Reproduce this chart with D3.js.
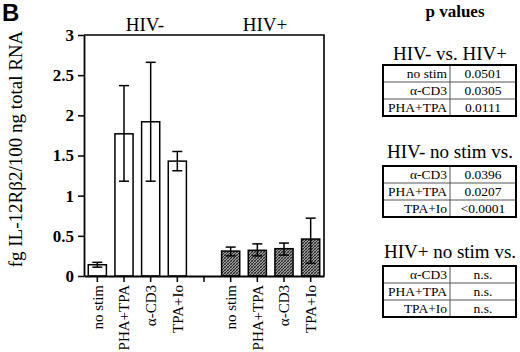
<!DOCTYPE html>
<html>
<head>
<meta charset="utf-8">
<script src="https://cdn.jsdelivr.net/npm/d3@7"></script>
<style>
  body { margin: 0; background: #fff; }
  svg { display: block; }
</style>
</head>
<body>
<div id="chart"></div>
<script>
// data
var stimuli = ["no stim", "PHA+TPA", "α-CD3", "TPA+Io"];
var groups = ["HIV-", "HIV+"];
var hivNegMean = [0.14, 1.77, 1.92, 1.43];
var hivNegLow  = [0.11, 1.18, 1.18, 1.31];
var hivNegHigh = [0.17, 2.37, 2.66, 1.55];
var hivPosMean = [0.31, 0.32, 0.34, 0.46];
var hivPosLow  = [0.25, 0.25, 0.26, 0.16];
var hivPosHigh = [0.36, 0.40, 0.41, 0.72];
var yTicks = [0, 0.5, 1, 1.5, 2, 2.5, 3];

var pTitles = ["HIV- vs. HIV+", "HIV- no stim vs.", "HIV+ no stim vs."];
var pLabels = [["no stim", "α-CD3", "PHA+TPA"], ["α-CD3", "PHA+TPA", "TPA+Io"], ["α-CD3", "PHA+TPA", "TPA+Io"]];
var pValues = [["0.0501", "0.0305", "0.0111"], ["0.0396", "0.0207", "<0.0001"], ["n.s.", "n.s.", "n.s."]];

var width = 520, height = 352;
var svg = d3.select("#chart").append("svg")
    .attr("width", width)
    .attr("height", height);

// crosshatch for the HIV+ bars
var pat = svg.append("defs").append("pattern")
    .attr("id", "hatch")
    .attr("patternUnits", "userSpaceOnUse")
    .attr("width", 3).attr("height", 3);
pat.append("rect").attr("width", 3).attr("height", 3).attr("fill", "#9a9a9a");
pat.append("path").attr("d", "M0,3 L3,0 M-1,1 L1,-1 M2,4 L4,2").attr("stroke", "#1a1a1a").attr("stroke-width", 0.9);
pat.append("path").attr("d", "M0,0 L3,3").attr("stroke", "#333").attr("stroke-width", 0.5);

// build rows: 4 HIV- slots, a gap, 4 HIV+ slots
var rows = [];
stimuli.forEach(function(s, i) {
  rows.push({key: "neg" + i, stim: s, group: 0, mean: hivNegMean[i], lo: hivNegLow[i], hi: hivNegHigh[i]});
});
var slots = rows.map(function(d) { return d.key; }).concat(["gap"]);
stimuli.forEach(function(s, i) {
  rows.push({key: "pos" + i, stim: s, group: 1, mean: hivPosMean[i], lo: hivPosLow[i], hi: hivPosHigh[i]});
  slots.push("pos" + i);
});
var labelOf = {};
rows.forEach(function(d) { labelOf[d.key] = d.stim; });
labelOf.gap = "";

var plotL = 84, plotR = 324, plotT = 35, plotB = 276;

var x = d3.scaleBand()
    .domain(slots)
    .range([plotL, plotR])
    .paddingInner(0.32)
    .paddingOuter(0.16);

var y = d3.scaleLinear()
    .domain([0, 3])
    .range([plotB, plotT]);

var serif = "'Liberation Serif', 'Times New Roman', serif";

// frame (top and right)
svg.append("path")
    .attr("d", "M" + plotL + "," + plotT + "H" + plotR + "V" + plotB)
    .attr("fill", "none")
    .attr("stroke", "#000")
    .attr("stroke-width", 1.6);

// bars
svg.append("g").selectAll("rect")
    .data(rows)
    .enter()
    .append("rect")
      .attr("x", function(d) { return x(d.key); })
      .attr("y", function(d) { return y(d.mean); })
      .attr("width", x.bandwidth())
      .attr("height", function(d) { return y(0) - y(d.mean); })
      .attr("fill", function(d) { return d.group ? "url(#hatch)" : "#fff"; })
      .attr("stroke", "#000")
      .attr("stroke-width", 1.5);

// error bars
var err = svg.append("g").selectAll("g")
    .data(rows)
    .enter()
    .append("g")
      .attr("stroke", "#000")
      .attr("stroke-width", 1.5);
err.append("line")
    .attr("x1", function(d) { return x(d.key) + x.bandwidth() / 2; })
    .attr("x2", function(d) { return x(d.key) + x.bandwidth() / 2; })
    .attr("y1", function(d) { return y(d.lo); })
    .attr("y2", function(d) { return y(d.hi); });
["lo", "hi"].forEach(function(k) {
  err.append("line")
      .attr("x1", function(d) { return x(d.key) + x.bandwidth() / 2 - 5; })
      .attr("x2", function(d) { return x(d.key) + x.bandwidth() / 2 + 5; })
      .attr("y1", function(d) { return y(d[k]); })
      .attr("y2", function(d) { return y(d[k]); });
});

// y axis
var yAxis = svg.append("g")
    .attr("transform", "translate(" + plotL + ",0)")
    .call(d3.axisLeft(y).tickValues(yTicks).tickSize(6).tickSizeOuter(0).tickFormat(d3.format("")));
yAxis.select(".domain").attr("stroke-width", 1.8);
yAxis.selectAll(".tick line").attr("stroke-width", 1.5);
yAxis.selectAll("text")
    .attr("x", -10)
    .style("font-family", serif)
    .style("font-weight", "bold")
    .style("font-size", "17px");

// x axis
var xAxis = svg.append("g")
    .attr("transform", "translate(0," + plotB + ")")
    .call(d3.axisBottom(x).tickSize(6).tickSizeOuter(0).tickFormat(function(k) { return labelOf[k]; }));
xAxis.select(".domain").attr("stroke-width", 1.8);
xAxis.selectAll(".tick line").attr("stroke-width", 1.5);
xAxis.selectAll("text")
    .attr("transform", "rotate(-90)")
    .attr("x", -9)
    .attr("y", 0)
    .attr("dy", "0.35em")
    .style("text-anchor", "end")
    .style("font-family", serif)
    .style("font-size", "15px");

// group labels
var groupX = [145, 265];
svg.append("g").selectAll("text")
    .data(groups)
    .enter()
    .append("text")
      .attr("x", function(d, i) { return groupX[i]; })
      .attr("y", 31)
      .attr("text-anchor", "middle")
      .style("font-family", serif)
      .style("font-size", "19px")
      .text(function(d) { return d; });

// y axis title
svg.append("text")
    .attr("transform", "translate(22,149) rotate(-90)")
    .attr("text-anchor", "middle")
    .style("font-family", serif)
    .style("font-size", "19px")
    .text("fg IL-12Rβ2/100 ng total RNA");

// panel letter
svg.append("text")
    .attr("x", 2)
    .attr("y", 21)
    .style("font-family", "'Liberation Sans', Arial, sans-serif")
    .style("font-weight", "bold")
    .style("font-size", "24px")
    .text("B");

// p values panel
svg.append("text")
    .attr("x", 455)
    .attr("y", 17)
    .attr("text-anchor", "middle")
    .style("font-family", serif)
    .style("font-weight", "bold")
    .style("font-size", "17px")
    .text("p values");

var tblLeft = 383, tblRight = 516, tblDiv = 450, rowH = 17;
var tblTops = [65, 166, 266];
var titleY = [60, 158, 258];

pTitles.forEach(function(t, i) {
  svg.append("text")
      .attr("x", 450)
      .attr("y", titleY[i])
      .attr("text-anchor", "middle")
      .style("font-family", serif)
      .style("font-size", "19px")
      .text(t);

  var g = svg.append("g").attr("transform", "translate(0," + tblTops[i] + ")");
  // inner lines
  [1, 2].forEach(function(r) {
    g.append("line")
        .attr("x1", tblLeft).attr("x2", tblRight)
        .attr("y1", r * rowH).attr("y2", r * rowH)
        .attr("stroke", "#555").attr("stroke-width", 1);
  });
  g.append("line")
      .attr("x1", tblDiv).attr("x2", tblDiv)
      .attr("y1", 0).attr("y2", 3 * rowH)
      .attr("stroke", "#555").attr("stroke-width", 1);
  g.append("rect")
      .attr("x", tblLeft).attr("y", 0)
      .attr("width", tblRight - tblLeft).attr("height", 3 * rowH)
      .attr("fill", "none").attr("stroke", "#000").attr("stroke-width", 2);

  g.selectAll(".lab")
      .data(pLabels[i])
      .enter()
      .append("text")
        .attr("x", tblDiv - 3)
        .attr("y", function(d, r) { return r * rowH + 13; })
        .attr("text-anchor", "end")
        .style("font-family", serif)
        .style("font-size", "13.5px")
        .text(function(d) { return d; });
  g.selectAll(".val")
      .data(pValues[i])
      .enter()
      .append("text")
        .attr("x", (tblDiv + tblRight) / 2)
        .attr("y", function(d, r) { return r * rowH + 13; })
        .attr("text-anchor", "middle")
        .style("font-family", serif)
        .style("font-size", "13.5px")
        .text(function(d) { return d; });
});
</script>
</body>
</html>
